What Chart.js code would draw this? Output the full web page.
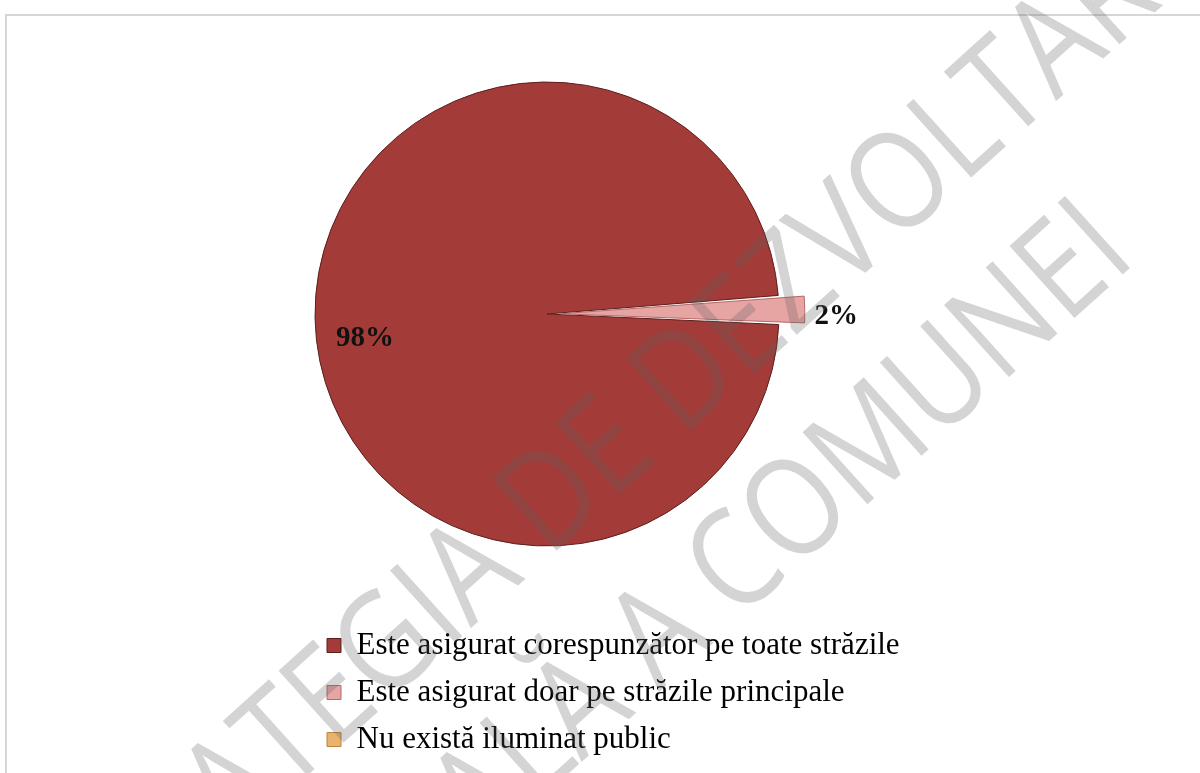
<!DOCTYPE html>
<html>
<head>
<meta charset="utf-8">
<script src="https://cdn.jsdelivr.net/npm/chart.js@4"></script>
<style>
  html, body { margin:0; padding:0; background:#fff; }
  .page { position:relative; width:1200px; height:773px; overflow:hidden; }
  .frame { position:absolute; left:5px; top:14px; width:1300px; height:900px; border:2px solid #d6d6d6; }
  .chart { position:absolute; left:0; top:0; width:1200px; height:773px; }
</style>
</head>
<body>
<div class="page">
  <div class="frame"></div>
  <div class="chart"><canvas id="pie"></canvas></div>
</div>
<script>
const categories = [
  "Este asigurat corespunzător pe toate străzile",
  "Este asigurat doar pe străzile principale",
  "Nu există iluminat public",
]
const shares = [98, 2, 0]
const sliceColors = ["#a33c39", "#e6a4a3", "#e9b36e"]
const sliceEdges = ["#5c1e1c", "#b46a6a", "#b98440"]
const sliceOffsets = [0, 55, 0]
const watermark = ["STRATEGIA DE DEZVOLTARE", "LOCALĂ A COMUNEI"]

const serif = "'Liberation Serif', 'DejaVu Serif', serif"

/** Bevelled fill, darker towards the rim. */
function sliceFill(context) {
  const i = context.dataIndex
  const {chart} = context
  const arc = chart.getDatasetMeta(0).data[i]
  if (!arc || !chart.chartArea || i !== 0)
    return sliceColors[i]
  const {x, y, outerRadius} = arc.getProps(["x", "y", "outerRadius"], true)
  if (!outerRadius)
    return sliceColors[i]
  const g = chart.ctx.createRadialGradient(x, y, 0, x, y, outerRadius)
  g.addColorStop(0, "#a53e3b")
  g.addColorStop(0.9, "#a23b38")
  g.addColorStop(0.97, "#933331")
  g.addColorStop(1, "#6e2523")
  return g
}

/** Let the legend run past the pie's width so long labels are not clipped. */
const wideLegend = {
  id:"wideLegend",
  afterLayout(chart) {
    const legend = chart.legend
    if (!legend)
      return
    legend.right = 1000
    legend.width = legend.right - legend.left
  }
}

/** Percent labels: inside for the big slice, outside for the exploded one. */
const sliceLabels = {
  id:"sliceLabels",
  afterDatasetsDraw(chart) {
    const {ctx} = chart
    const meta = chart.getDatasetMeta(0)
    ctx.save()
    ctx.font = `bold 29px ${serif}`
    ctx.fillStyle = "#111"
    ctx.textBaseline = "middle"
    meta.data.forEach((arc, i) => {
      if (!shares[i])
        return
      const {x, y, startAngle, endAngle, outerRadius} = arc.getProps(["x", "y", "startAngle", "endAngle", "outerRadius"], true)
      const mid = (startAngle + endAngle) / 2
      const text = `${shares[i]}%`
      if (sliceOffsets[i]) {
        const r = outerRadius + sliceOffsets[i] / 2 + 8
        ctx.textAlign = "left"
        ctx.fillText(text, x + Math.cos(mid) * r, y + Math.sin(mid) * r + 7)
      }
      else {
        const r = outerRadius * 0.785
        ctx.textAlign = "center"
        ctx.fillText(text, x + Math.cos(mid) * r, y + Math.sin(mid) * r + 21)
      }
    })
    ctx.restore()
  }
}

/** Faint diagonal watermark over the whole picture. */
const watermarkText = {
  id:"watermarkText",
  afterDraw(chart) {
    const {ctx} = chart
    const lines = [
      {text:watermark[0], x:622, y:440},
      {text:watermark[1], x:700, y:603},
    ]
    ctx.save()
    ctx.font = `136px 'Open Sans', 'DejaVu Sans', sans-serif`
    ctx.fillStyle = "rgba(95,95,95,0.27)"
    ctx.textAlign = "center"
    ctx.textBaseline = "middle"
    for (const line of lines) {
      ctx.save()
      ctx.translate(line.x, line.y)
      ctx.rotate(-42 * Math.PI / 180)
      ctx.scale(0.86, 1)
      ctx.fillText(line.text, 0, 0)
      ctx.restore()
    }
    ctx.restore()
  }
}

new Chart(document.getElementById("pie"), {
  type:"pie",
  data:{
    labels:categories,
    datasets:[{
      data:shares,
      backgroundColor:sliceFill,
      borderColor:sliceEdges,
      borderWidth:[1, 1, 0],
      offset:sliceOffsets,
    }]
  },
  options:{
    responsive:true,
    maintainAspectRatio:false,
    animation:false,
    rotation:92.6,
    radius:232,
    layout:{ padding:{ left:311, right:417, top:14, bottom:8 } },
    plugins:{
      tooltip:{ enabled:false },
      legend:{
        position:"bottom",
        align:"start",
        labels:{
          boxWidth:14,
          boxHeight:14,
          padding:16,
          color:"#111",
          font:{ family:serif, size:31 },
          generateLabels:() => categories.map((text, i) => ({
            text,
            fillStyle:sliceColors[i],
            strokeStyle:sliceEdges[i],
            lineWidth:1,
            hidden:false,
            index:i,
          })),
        }
      }
    }
  },
  plugins:[wideLegend, sliceLabels, watermarkText]
})
</script>
</body>
</html>
